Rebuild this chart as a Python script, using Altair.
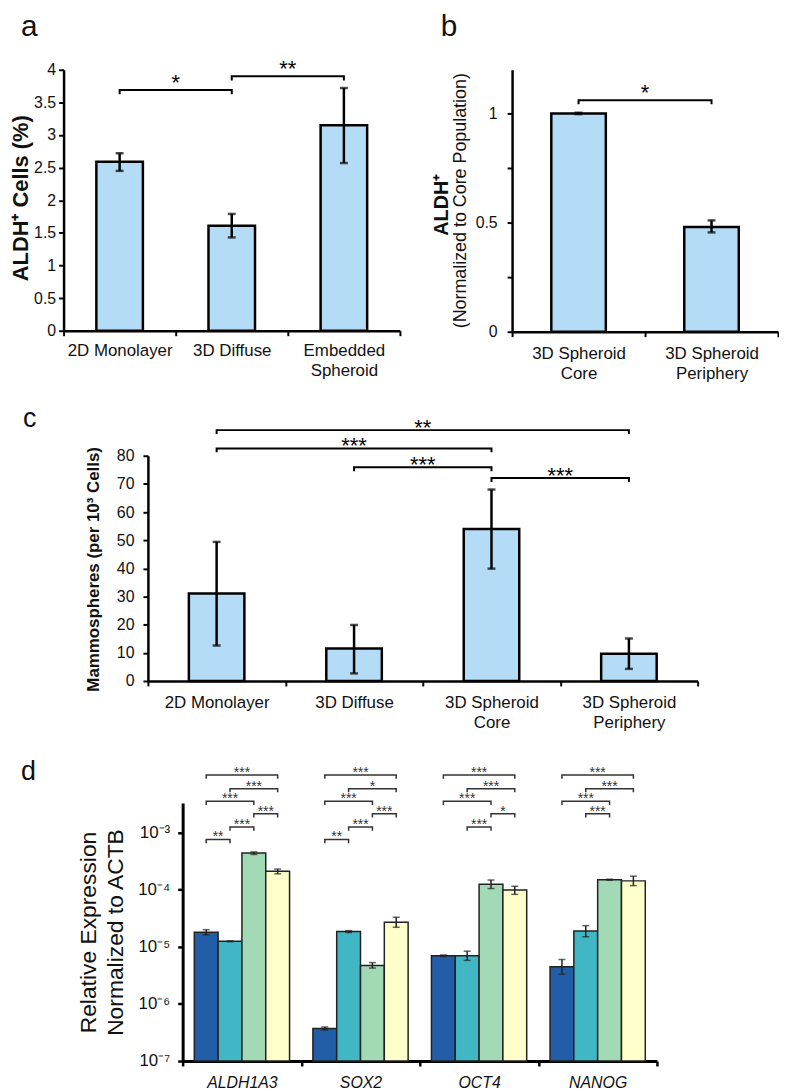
import altair as alt
import pandas as pd

FONT = "Liberation Sans"
BLUE = "#B5DCF6"
INK = "#111111"

# ---------------- panel a ----------------
a_categories = ["2D Monolayer", "3D Diffuse", "Embedded\nSpheroid"]
a_values = [2.59, 1.61, 3.15]
a_err_low = [2.45, 1.43, 2.57]
a_err_high = [2.72, 1.79, 3.72]
a_sig_from = [0, 1]
a_sig_to = [1, 2]
a_sig_level = [3.69, 3.90]
a_sig_label = ["*", "**"]
a_ticks = [0, 0.5, 1, 1.5, 2, 2.5, 3, 3.5, 4]

# ---------------- panel b ----------------
b_categories = ["3D Spheroid\nCore", "3D Spheroid\nPeriphery"]
b_values = [1.0, 0.48]
b_err_low = [0.997, 0.455]
b_err_high = [1.003, 0.51]
b_sig_from = [0]
b_sig_to = [1]
b_sig_level = [1.06]
b_sig_label = ["*"]
b_ticks = [0, 0.25, 0.5, 0.75, 1]

# ---------------- panel c ----------------
c_categories = ["2D Monolayer", "3D Diffuse", "3D Spheroid\nCore", "3D Spheroid\nPeriphery"]
c_values = [31.1, 11.5, 54.0, 9.7]
c_err_low = [12.6, 2.7, 39.9, 4.3]
c_err_high = [49.4, 19.9, 68.0, 15.1]
c_sig_from = [0, 0, 1, 2]
c_sig_to = [3, 2, 2, 3]
c_sig_level = [89.1, 82.6, 75.9, 72.1]
c_sig_label = ["**", "***", "***", "***"]
c_ticks = [0, 10, 20, 30, 40, 50, 60, 70, 80]

# ---------------- panel d ----------------
d_genes = ["ALDH1A3", "SOX2", "OCT4", "NANOG"]
d_samples = ["2D Monolayer", "3D Diffuse", "3D Spheroid Core", "3D Spheroid Periphery"]
d_colors = ["#225EA8", "#41B6C4", "#A1DAB4", "#FFFFCC"]
d_aldh1a3 = [1.80e-5, 1.25e-5, 4.40e-4, 2.10e-4]
d_sox2 = [3.7e-7, 1.85e-5, 4.7e-6, 2.7e-5]
d_oct4 = [7.0e-6, 7.0e-6, 1.25e-4, 9.9e-5]
d_nanog = [4.5e-6, 1.9e-5, 1.50e-4, 1.43e-4]
d_aldh1a3_lo = [1.62e-5, 1.23e-5, 4.15e-4, 1.90e-4]
d_aldh1a3_hi = [2.00e-5, 1.27e-5, 4.60e-4, 2.30e-4]
d_sox2_lo = [3.5e-7, 1.78e-5, 4.25e-6, 2.2e-5]
d_sox2_hi = [3.95e-7, 1.92e-5, 5.3e-6, 3.3e-5]
d_oct4_lo = [6.8e-6, 5.8e-6, 1.05e-4, 8.3e-5]
d_oct4_hi = [7.2e-6, 8.4e-6, 1.48e-4, 1.15e-4]
d_nanog_lo = [3.3e-6, 1.5e-5, 1.47e-4, 1.18e-4]
d_nanog_hi = [6.0e-6, 2.35e-5, 1.53e-4, 1.73e-4]
d_tick_values = [1e-7, 1e-6, 1e-5, 1e-4, 1e-3]
d_tick_labels = ["10⁻⁷", "10⁻⁶", "10⁻⁵", "10⁻⁴", "10⁻³"]
d_sig_gene = [0, 0, 0, 0, 0, 0, 1, 1, 1, 1, 1, 1, 2, 2, 2, 2, 2, 3, 3, 3, 3]
d_sig_from = [0, 1, 0, 2, 1, 0, 0, 1, 0, 2, 1, 0, 0, 1, 0, 2, 1, 0, 1, 0, 1]
d_sig_to = [3, 3, 2, 3, 2, 1, 3, 3, 2, 3, 2, 1, 3, 3, 2, 3, 2, 3, 3, 2, 2]
d_sig_row = [0, 1, 2, 3, 4, 5, 0, 1, 2, 3, 4, 5, 0, 1, 2, 3, 4, 0, 1, 2, 3]
d_sig_label = ["***", "***", "***", "***", "***", "**",
               "***", "*", "***", "***", "***", "**",
               "***", "***", "***", "*", "***",
               "***", "***", "***", "***"]
d_row_levels = [1.02e-2, 5.9e-3, 3.55e-3, 2.14e-3, 1.26e-3, 7.6e-4]

NOBOX = alt.ViewBackground(stroke="transparent", strokeWidth=0)


def text_layer(txt, x, y, size, weight="normal", angle=0, align="left", baseline="top"):
    return alt.Chart(pd.DataFrame({"t": [txt]})).mark_text(
        font=FONT, fontSize=size, fontWeight=weight, angle=angle, align=align,
        baseline=baseline, color=INK
    ).encode(text="t:N", x=alt.value(x), y=alt.value(y))


def spacer(w, h, extra=()):
    base = alt.Chart(pd.DataFrame({"t": [""]})).mark_text().encode(
        text="t:N", x=alt.value(0), y=alt.value(0))
    return alt.layer(base, *extra).properties(width=w, height=h, view=NOBOX)


def simple_panel(cats, vals, lo, hi, sfrom, sto, slevel, slabel, width, height, ydomain,
                 yticks, yfmt, yaxis_extra, rel_bar, xpad, ypad, drop, star_dy, star_size,
                 extra):
    n = len(cats)
    df = pd.DataFrame({"cat": cats, "value": vals, "lo": lo, "hi": hi})
    xaxis = alt.Axis(title=None, labelAngle=0, labelExpr="split(datum.label, '\\n')",
                     tickBand="extent", labelFont=FONT, labelFontSize=17, labelColor=INK,
                     labelLineHeight=20, labelPadding=xpad, labelOverlap=False, labelLimit=300,
                     domainColor="black", domainWidth=2.5, tickColor="black", tickWidth=2,
                     tickSize=5)
    yaxis = alt.Axis(values=yticks, format=yfmt, labelFont=FONT, labelFontSize=16,
                     labelColor=INK, labelPadding=ypad, domainColor="black", domainWidth=2.5,
                     tickColor="black", tickWidth=2, tickSize=5, grid=False, **yaxis_extra)
    xscale = alt.Scale(paddingInner=0, paddingOuter=0)
    yscale = alt.Scale(domain=ydomain, nice=False)
    xenc = alt.X("cat:N", sort=cats, scale=xscale, axis=xaxis)

    bars = alt.Chart(df).mark_bar(width=alt.RelativeBandSize(rel_bar), fill=BLUE,
                                  stroke="black", strokeWidth=2.5).encode(
        x=xenc, y=alt.Y("value:Q", scale=yscale, axis=yaxis))
    err = alt.Chart(df).mark_rule(color="black", strokeWidth=2.5).encode(
        x=xenc, y=alt.Y("lo:Q", scale=yscale, axis=yaxis), y2="hi:Q")
    cap_lo = alt.Chart(df).mark_tick(color="black", thickness=2.5, size=8).encode(
        x=xenc, y=alt.Y("lo:Q", scale=yscale, axis=yaxis))
    cap_hi = alt.Chart(df).mark_tick(color="black", thickness=2.5, size=8).encode(
        x=xenc, y=alt.Y("hi:Q", scale=yscale, axis=yaxis))
    inner = alt.layer(bars, err, cap_lo, cap_hi)

    rows = []
    for i, (f, t, lv) in enumerate(zip(sfrom, sto, slevel)):
        rows += [{"id": i, "ord": 0, "pos": f, "y": lv - drop},
                 {"id": i, "ord": 1, "pos": f, "y": lv},
                 {"id": i, "ord": 2, "pos": t, "y": lv},
                 {"id": i, "ord": 3, "pos": t, "y": lv - drop}]
    bdf = pd.DataFrame(rows)
    qscale = alt.Scale(domain=[-0.5, n - 0.5], nice=False, zero=False)
    brackets = alt.Chart(bdf).mark_line(color="black", strokeWidth=2).encode(
        x=alt.X("pos:Q", scale=qscale, axis=None),
        y=alt.Y("y:Q", scale=yscale, axis=yaxis), detail="id:N", order="ord:Q")
    sdf = pd.DataFrame({"mid": [(f + t) / 2 for f, t in zip(sfrom, sto)],
                        "level": slevel, "label": slabel})
    stars = alt.Chart(sdf).mark_text(font=FONT, fontSize=star_size, color="black",
                                     baseline="alphabetic", dy=star_dy).encode(
        x=alt.X("mid:Q", scale=qscale, axis=None),
        y=alt.Y("level:Q", scale=yscale, axis=yaxis), text="label:N")
    return alt.layer(inner, brackets, stars, *extra).resolve_scale(
        x="independent").properties(width=width, height=height, view=NOBOX)


A = simple_panel(
    a_categories, a_values, a_err_low, a_err_high, a_sig_from, a_sig_to, a_sig_level,
    a_sig_label, 339, 263, [0, 4], a_ticks, "~g",
    dict(title="ALDH⁺ Cells (%)", titleFont=FONT, titleFontSize=22, titleFontWeight="bold",
         titleColor=INK, titleX=-53, titleY=129, titleAngle=270, titleBaseline="top",
         titleAlign="center"),
    0.415, 7, 3, 0.065, 0, 22,
    [text_layer("a", -43, -58, 30)])

B = simple_panel(
    b_categories, b_values, b_err_low, b_err_high, b_sig_from, b_sig_to, b_sig_level,
    b_sig_label, 268, 264, [0, 1.2], b_ticks, "~g",
    dict(title=None, labelExpr="(datum.value == 0.25 || datum.value == 0.75) ? '' : datum.label"),
    0.41, 9, 10, 0.018, 0, 22,
    [text_layer("b", -72, -58, 30),
     text_layer("ALDH⁺", -81, 136, 20, "bold", 270, "center", "top"),
     text_layer("(Normalized to Core Population)", -60, 132, 18, "normal", 270, "center", "top")])

C = simple_panel(
    c_categories, c_values, c_err_low, c_err_high, c_sig_from, c_sig_to, c_sig_level,
    c_sig_label, 554, 227, [0, 80], c_ticks, "d",
    dict(title="Mammospheres (per 10³ Cells)", titleFont=FONT, titleFontSize=17,
         titleFontWeight="bold", titleColor=INK, titleX=-63, titleY=114, titleAngle=270,
         titleBaseline="top", titleAlign="center"),
    0.404, 9, 9, 1.4, 5, 22,
    [])

# ---- panel d ----
vals = [d_aldh1a3, d_sox2, d_oct4, d_nanog]
los = [d_aldh1a3_lo, d_sox2_lo, d_oct4_lo, d_nanog_lo]
his = [d_aldh1a3_hi, d_sox2_hi, d_oct4_hi, d_nanog_hi]
drows = []
for gi, g in enumerate(d_genes):
    for k, s in enumerate(d_samples):
        drows.append({"gene": g, "sample": s, "value": vals[gi][k], "lo": los[gi][k],
                      "hi": his[gi][k]})
ddf = pd.DataFrame(drows)

expr = ""
for v, lab in zip(d_tick_values, d_tick_labels):
    expr += f"datum.value < {v * 3} ? '{lab}' : "
expr += "''"

OUTER = 0.49
d_xaxis = alt.Axis(title=None, labelAngle=0, tickBand="extent", labelFont=FONT,
                   labelFontSize=16, labelFontStyle="italic", labelColor=INK, labelPadding=9,
                   domainColor="black", domainWidth=3, tickColor="black", tickWidth=2.5,
                   tickSize=5)
d_yaxis = alt.Axis(values=d_tick_values, labelExpr=expr, labelFont=FONT, labelFontSize=17,
                   labelColor=INK, labelPadding=8, domainColor="black", domainWidth=3,
                   tickColor="black", tickWidth=2.5, tickSize=5, grid=False,
                   title=["Relative Expression", "Normalized to ACTB"], titleFont=FONT,
                   titleFontSize=23, titleFontWeight="normal", titleColor=INK, titleX=-106,
                   titleY=130, titleAngle=270, titleBaseline="top", titleAlign="center",
                   titleLineHeight=27)
ylog = alt.Scale(type="log", domain=[1e-7, 3.3e-3], nice=False)
xg = alt.X("gene:N", sort=d_genes, scale=alt.Scale(paddingInner=0, paddingOuter=0),
           axis=d_xaxis)
xo = alt.XOffset("sample:N", sort=d_samples,
                 scale=alt.Scale(paddingInner=0, paddingOuter=OUTER))

d_bars = alt.Chart(ddf).mark_bar(stroke="#222222", strokeWidth=1.5).encode(
    x=xg, xOffset=xo, y=alt.Y("value:Q", scale=ylog, axis=d_yaxis), y2=alt.datum(1e-7),
    color=alt.Color("sample:N", sort=d_samples,
                    scale=alt.Scale(domain=d_samples, range=d_colors), legend=None))
d_err = alt.Chart(ddf).mark_rule(color="#222222", strokeWidth=1.5).encode(
    x=xg, xOffset=xo, y=alt.Y("lo:Q", scale=ylog, axis=d_yaxis), y2="hi:Q")
d_cap_lo = alt.Chart(ddf).mark_tick(color="#222222", thickness=1.5, size=7).encode(
    x=xg, xOffset=xo, y=alt.Y("lo:Q", scale=ylog, axis=d_yaxis))
d_cap_hi = alt.Chart(ddf).mark_tick(color="#222222", thickness=1.5, size=7).encode(
    x=xg, xOffset=xo, y=alt.Y("hi:Q", scale=ylog, axis=d_yaxis))
d_inner = alt.layer(d_bars, d_err, d_cap_lo, d_cap_hi)

nb = len(d_samples)
brows = []
srows = []
DROP = 0.86
for i, (g, f, t, r, lab) in enumerate(zip(d_sig_gene, d_sig_from, d_sig_to, d_sig_row,
                                           d_sig_label)):
    pf = g + (OUTER + f + 0.5) / (nb + 2 * OUTER)
    pt = g + (OUTER + t + 0.5) / (nb + 2 * OUTER)
    lv = d_row_levels[r]
    brows += [{"id": i, "ord": 0, "pos": pf, "y": lv * DROP},
              {"id": i, "ord": 1, "pos": pf, "y": lv},
              {"id": i, "ord": 2, "pos": pt, "y": lv},
              {"id": i, "ord": 3, "pos": pt, "y": lv * DROP}]
    srows.append({"mid": (pf + pt) / 2, "level": lv, "label": lab})
dq = alt.Scale(domain=[0, len(d_genes)], nice=False, zero=False)
d_brackets = alt.Chart(pd.DataFrame(brows)).mark_line(color="#333333", strokeWidth=1.5).encode(
    x=alt.X("pos:Q", scale=dq, axis=None), y=alt.Y("y:Q", scale=ylog, axis=d_yaxis),
    detail="id:N", order="ord:Q")
d_stars = alt.Chart(pd.DataFrame(srows)).mark_text(font=FONT, fontSize=14, color="#333333",
                                                   baseline="alphabetic", dy=2).encode(
    x=alt.X("mid:Q", scale=dq, axis=None), y=alt.Y("level:Q", scale=ylog, axis=d_yaxis),
    text="label:N")
D = alt.layer(d_inner, d_brackets, d_stars).resolve_scale(
    x="independent").properties(width=478, height=260, view=NOBOX)

row1 = alt.hconcat(A, B, spacing=31)
row2 = alt.hconcat(spacer(20, 10, [text_layer("c", -41, -50, 27)]), C, spacing=0)
row3 = alt.hconcat(spacer(14, 10, [text_layer("d", -43, -44, 27)]), D, spacing=0)

chart = alt.vconcat(row1, spacer(1, 18), row2, spacer(1, 22), row3, spacing=0).properties(
    padding={"left": 2, "top": 0, "right": 0, "bottom": 0}
).configure_view(stroke="transparent", strokeWidth=0).configure(font=FONT)

chart.save("out.html", embed_options={"renderer": "svg", "actions": False})
